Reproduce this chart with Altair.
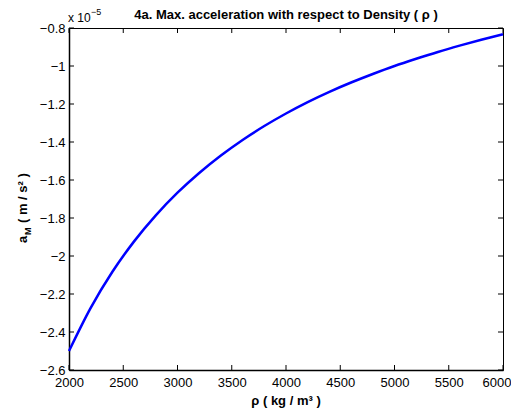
import altair as alt
import pandas as pd

# Data (acceleration in units of 1e-5 m/s^2)
rho = [2000, 2200, 2400, 2600, 2800, 3000, 3200, 3400, 3600, 3800, 4000,
       4200, 4400, 4600, 4800, 5000, 5200, 5400, 5600, 5800, 6000]
accel = [-2.500, -2.273, -2.083, -1.923, -1.786, -1.667, -1.563, -1.471, -1.389,
         -1.316, -1.250, -1.190, -1.136, -1.087, -1.042, -1.000, -0.962, -0.926,
         -0.893, -0.862, -0.833]
x_ticks = [2000, 2500, 3000, 3500, 4000, 4500, 5000, 5500, 6000]
y_ticks = [-2.6, -2.4, -2.2, -2.0, -1.8, -1.6, -1.4, -1.2, -1.0, -0.8]

W, H = 434, 342
FONT = "Liberation Sans"

df = pd.DataFrame({"rho": rho, "a": accel})
xt = pd.DataFrame({"rho": x_ticks})
yt = pd.DataFrame({"a": y_ticks})

xscale = alt.Scale(domain=[2000, 6000], nice=False, zero=False)
yscale = alt.Scale(domain=[-2.6, -0.8], nice=False, zero=False)

xaxis = alt.Axis(values=x_ticks, title=None, ticks=False, grid=False,
                 labelFontSize=13, labelFont=FONT, labelColor="black",
                 labelPadding=6, domainColor="black", domainWidth=1.5,
                 labelFlush=False, format="d",
                 labelAlign={"condition": {"test": "datum.value >= 6000", "value": "right"},
                             "value": "center"},
                 labelOffset={"condition": {"test": "datum.value >= 6000", "value": 8},
                              "value": 0})
yaxis = alt.Axis(values=y_ticks, title=None, ticks=False, grid=False,
                 labelFontSize=13, labelFont=FONT, labelColor="black",
                 labelPadding=4, domainColor="black", domainWidth=1.5,
                 labelFlush=False, format="~g")

line = alt.Chart(df).mark_line(color="#0000FF", strokeWidth=2.5, interpolate="monotone").encode(
    x=alt.X("rho:Q", scale=xscale, axis=xaxis),
    y=alt.Y("a:Q", scale=yscale, axis=yaxis),
)

xt_bottom = alt.Chart(xt).mark_rule(color="black", strokeWidth=1).encode(
    x=alt.X("rho:Q", scale=xscale, axis=xaxis), y=alt.value(H), y2=alt.value(H - 5))
xt_top = alt.Chart(xt).mark_rule(color="black", strokeWidth=1).encode(
    x=alt.X("rho:Q", scale=xscale, axis=xaxis), y=alt.value(0), y2=alt.value(5))
yt_left = alt.Chart(yt).mark_rule(color="black", strokeWidth=1).encode(
    y=alt.Y("a:Q", scale=yscale, axis=yaxis), x=alt.value(0), x2=alt.value(5))
yt_right = alt.Chart(yt).mark_rule(color="black", strokeWidth=1).encode(
    y=alt.Y("a:Q", scale=yscale, axis=yaxis), x=alt.value(W - 5), x2=alt.value(W))


def label(text, x, y, size=13, bold=True, angle=0, align="left"):
    kw = dict(text=text, fontSize=size, font=FONT, color="black",
              fontWeight="bold" if bold else "normal", align=align,
              baseline="alphabetic")
    if angle:
        kw["angle"] = angle
    return alt.Chart(pd.DataFrame({"d": [0]})).mark_text(**kw).encode(
        x=alt.value(x), y=alt.value(y))


title = label("4a. Max. acceleration with respect to Density ( ρ )", W / 2, -9, align="center")
xtitle = label("ρ ( kg / m³ )", W / 2, 377, align="center")
y_a = label("a", -42, 215, angle=270)
y_m = label("M", -38, 207, size=9, angle=270)
y_rest = label("( m / s² )", -42, 195, angle=270)
exp1 = label("x 10", -1, -6, size=12, bold=False)
exp2 = label("−5", 22, -13, size=9, bold=False)

chart = alt.layer(line, xt_bottom, xt_top, yt_left, yt_right,
                  title, xtitle, y_a, y_m, y_rest, exp1, exp2).properties(
    width=W, height=H,
    autosize=alt.AutoSizeParams(type="none"),
    padding={"left": 61, "top": 20, "right": 8, "bottom": 39},
    background="white",
).configure_view(stroke="black", strokeWidth=1)

chart.save("out.html", embed_options={"renderer": "svg", "actions": False})
